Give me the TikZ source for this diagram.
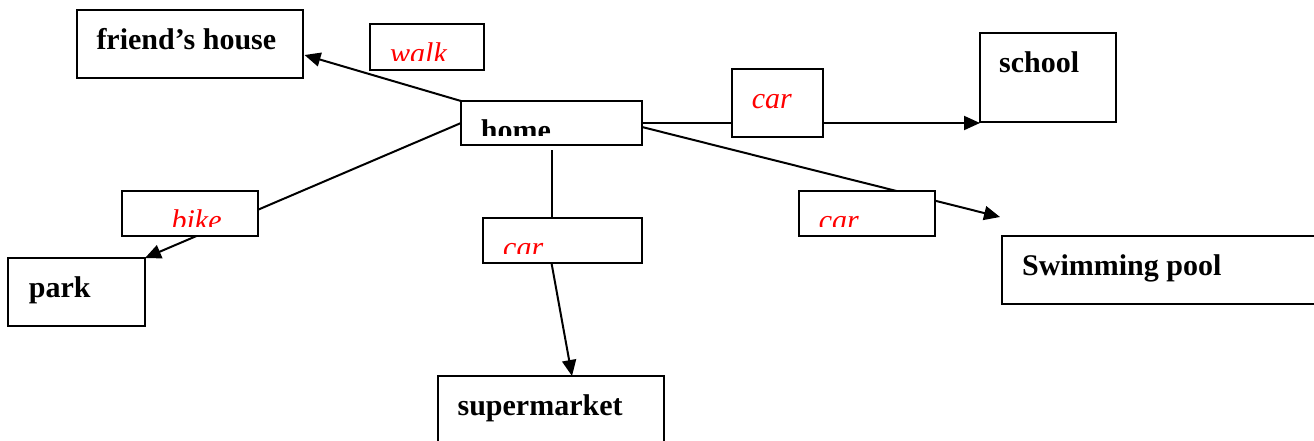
\documentclass[tikz,border=0pt]{standalone}
\usepackage{fontspec}
\setmainfont{Liberation Serif}
\usetikzlibrary{arrows.meta,backgrounds}
\newcommand\boxtext[5]{%
  \begin{scope}
    \clip (#1.north west) rectangle ([yshift=9.5pt]#1.south east);
    \node[#3,anchor=base west,inner sep=0pt] (#5) at ([xshift=#2pt,yshift=-39pt]#1.north west) {#4};
  \end{scope}}
\begin{document}
\begin{tikzpicture}[x=1pt,y=-1pt,
  box/.style={draw=black,line width=2pt,fill=white,outer sep=0pt,inner sep=0pt,anchor=north west},
  place/.style={font=\fontsize{30}{36}\selectfont\bfseries,text=black},
  mode/.style={font=\fontsize{30}{36}\selectfont\itshape,text=red},
  link/.style={line width=2pt,draw=black},
  arr/.style={link,-{Triangle[length=16pt,width=14pt]}}]
\useasboundingbox (0,0) rectangle (1314,440);

% boxes
\node[box,minimum width=226pt,minimum height=68pt] (fh) at (77,10) {};
\node[box,minimum width=114pt,minimum height=46pt] (walk) at (370,24) {};
\node[box,minimum width=181pt,minimum height=44pt] (home) at (461,101) {};
\node[box,minimum width=91pt,minimum height=68pt] (cart) at (732,69) {};
\node[box,minimum width=136pt,minimum height=89pt] (school) at (980,33) {};
\node[box,minimum width=136pt,minimum height=45pt] (bike) at (122,191) {};
\node[box,minimum width=137pt,minimum height=68pt] (park) at (8,258) {};
\node[box,minimum width=159pt,minimum height=45pt] (carm) at (483,218) {};
\node[box,minimum width=136pt,minimum height=45pt] (carr) at (799,191) {};
\node[box,minimum width=330pt,minimum height=68pt] (swim) at (1002,236) {};
\node[box,minimum width=226pt,minimum height=75pt] (sm) at (438,376) {};
\coordinate (pooltip) at (1000,217);

% texts
\boxtext{fh}{19.3}{place}{friend’s house}{fht}
\boxtext{walk}{20}{mode}{walk}{walkt}
\boxtext{home}{19.7}{place}{home}{homet}
\boxtext{cart}{19.6}{mode}{car}{cartt}
\boxtext{school}{19}{place}{school}{schoolt}
\boxtext{bike}{49.4}{mode}{bike}{biket}
\boxtext{park}{20.7}{place}{park}{parkt}
\boxtext{carm}{20}{mode}{car}{carmt}
\boxtext{carr}{19.6}{mode}{car}{carrt}
\boxtext{swim}{20}{place}{Swimming pool}{swimt}
\boxtext{sm}{19.4}{place}{supermarket}{smt}

% connectors
\begin{scope}[on background layer]
\draw[arr] (home.north west) -- ([xshift=1.5pt,yshift=-11pt]fh.east);
\draw[arr] (home.west) -- (park.north east);
\draw[arr] (home.east) -- (home.east -| school.west);
\draw[arr] ([yshift=-4pt]home.east) -- (pooltip);
\draw[link] ([yshift=-5pt]home.south) -- (home.south |- carm.north);
\draw[arr] (home.south |- carm.south) -- ([xshift=21pt]sm.north);
\end{scope}
\end{tikzpicture}
\end{document}
